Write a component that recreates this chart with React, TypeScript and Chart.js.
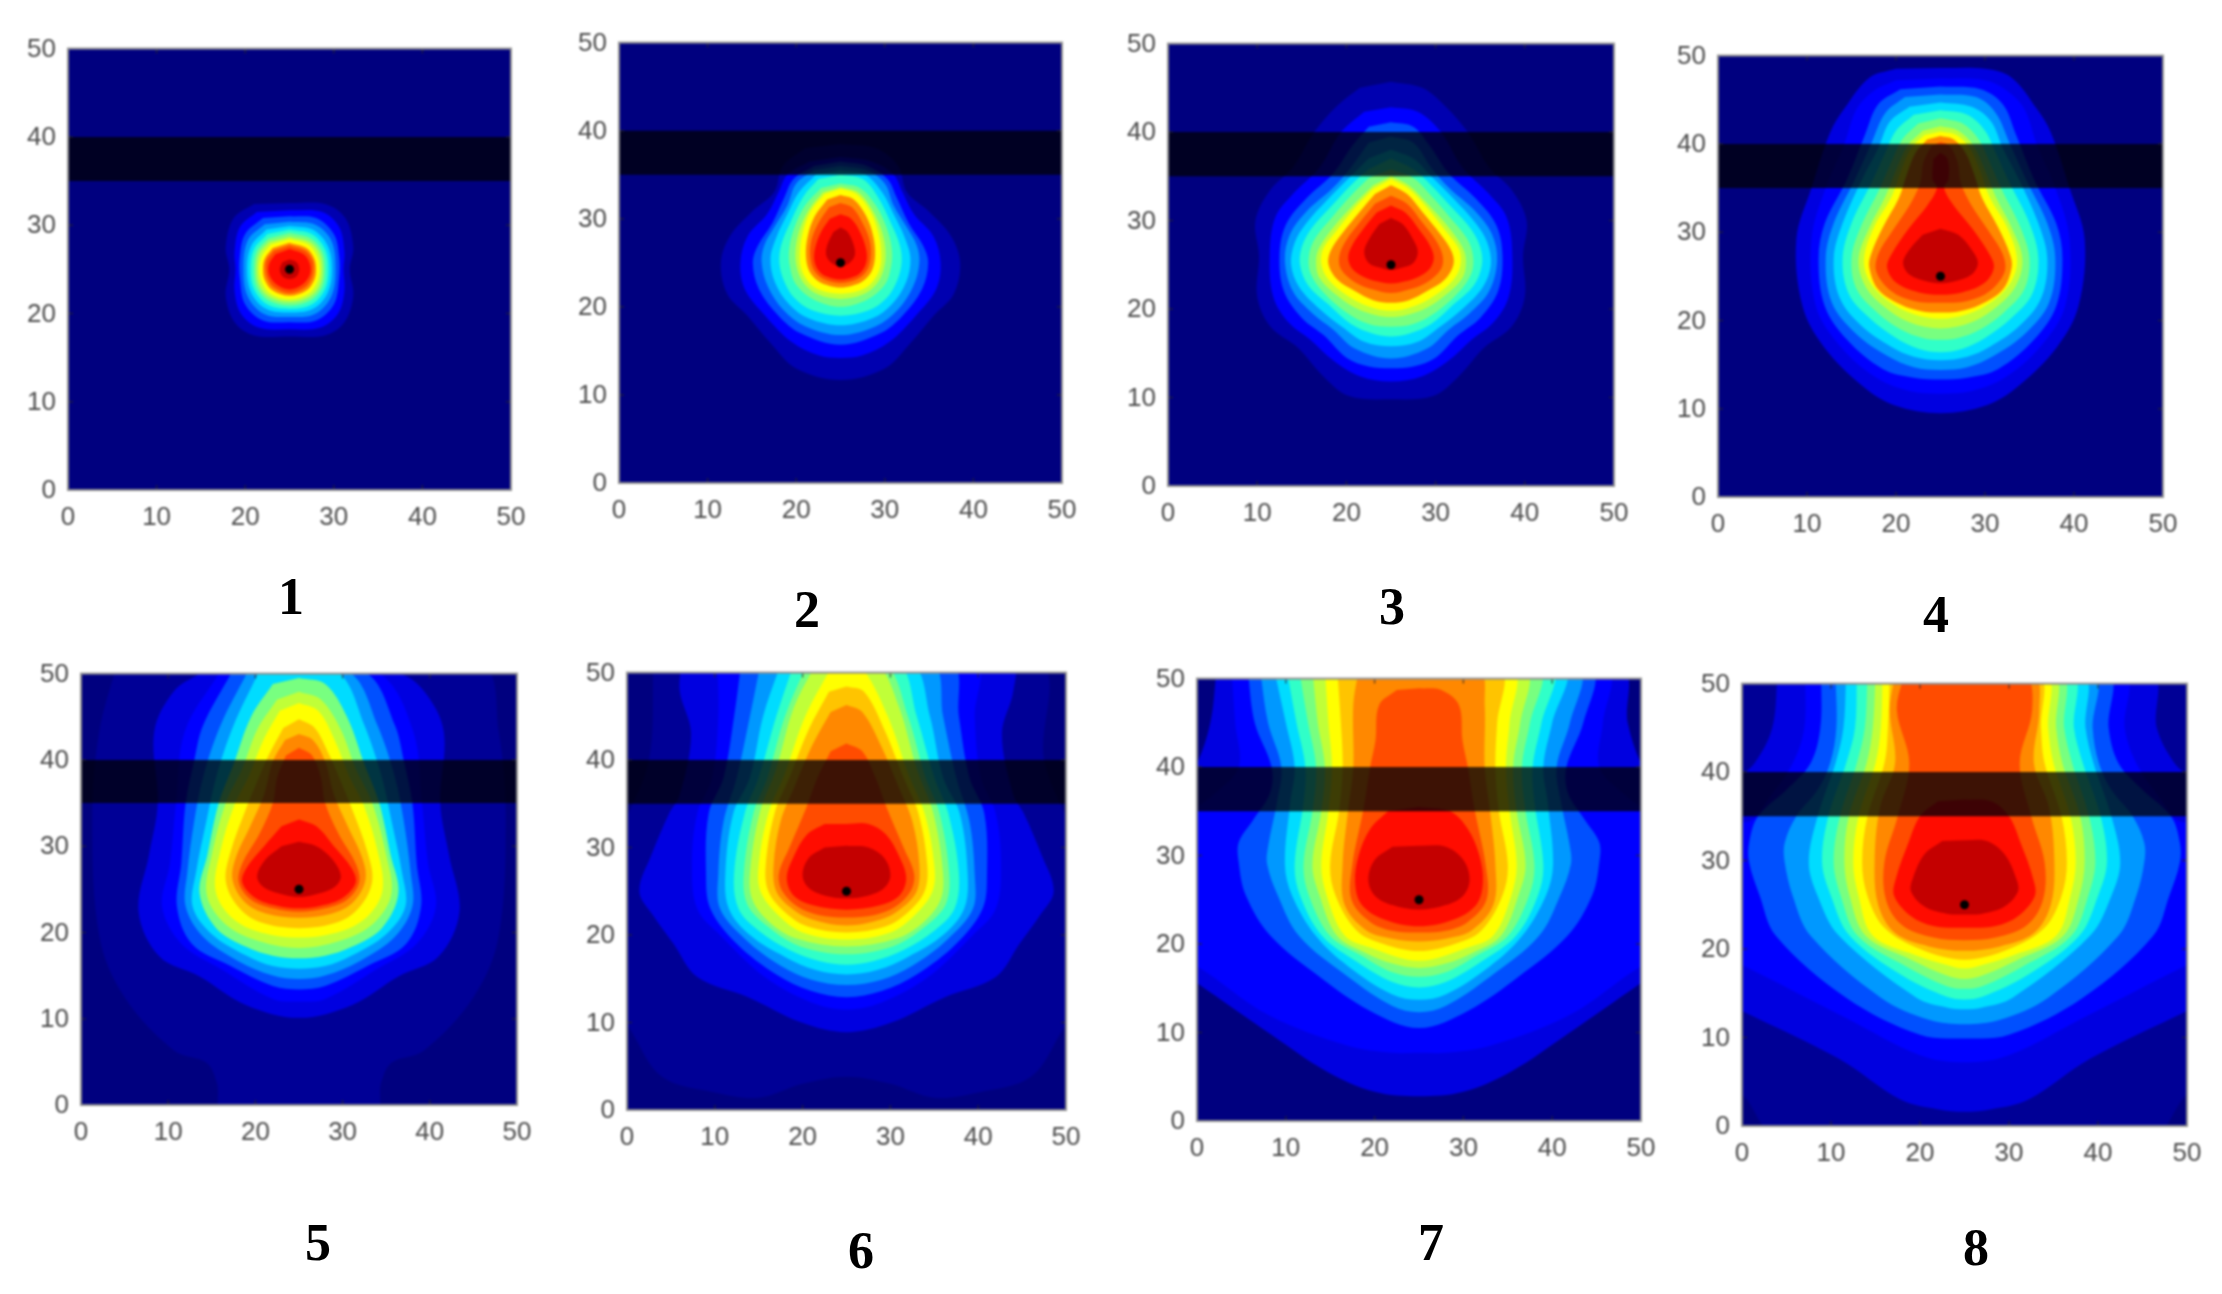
import { useEffect, useRef } from "react"
import { Chart, registerables } from "chart.js"

Chart.register(...registerables)

type Pt = [number, number]

// jet steps used by the filled contours, index 0 is the plot background, 16 the faint first step
const jetColors = [
  "#00007f", "#0000b0", "#0000e0", "#0000ff", "#0050ff", "#0098ff", "#00dcff", "#30ffc8",
  "#78ff80", "#c0ff38", "#ffff00", "#ffc400", "#ff8800", "#ff4c00", "#ff0c00", "#c40000",
  "#000096",
]

const tickValues = [0, 10, 20, 30, 40, 50]
const sourcePoint: Pt = [25, 25]
const layerBand: Pt[] = [[0, 35], [50, 35], [50, 40], [0, 40]]
const plotFrame: Pt[] = [[0, 0], [50, 0], [50, 50], [0, 50]]

// contour outlines, outermost first. Only the right half is read (x >= 25, top to bottom),
// the pictures are symmetric about x = 25
const panel1Levels: Pt[][] = [
  [[25,32.5],[29,32.4],[31.3,30.8],[32.2,27.5],[31.8,25],[32.2,22],[31.2,19],[29,17.5],[25,17.4]],
  [[25,31.7],[28.7,31.5],[30.6,29.8],[31.2,27],[31.1,25],[31.2,22.5],[30.5,20],[28.5,18.4],[25,18.2]],
  [[25,31],[28,30.8],[30,29],[30.6,26.5],[30.6,24],[30,21],[28,19.2],[25,19]],
  [[25,30.4],[27.8,30.1],[29.7,28.3],[30.2,25],[29.7,21.9],[27.8,19.9],[25,19.6]],
  [[25,29.9],[27.6,29.5],[29.3,27.7],[29.8,25],[29.3,22.3],[27.6,20.5],[25,20.1]],
  [[25,29.5],[27.5,29],[29,27.3],[29.4,25],[29,22.7],[27.5,21],[25,20.5]],
  [[25,29.1],[27.4,28.5],[28.7,27],[29,25],[28.7,23],[27.4,21.5],[25,20.9]],
  [[25,28.7],[27.3,28.1],[28.4,26.8],[28.7,25],[28.4,23.2],[27.3,21.9],[25,21.3]],
  [[25,28.4],[27.1,27.8],[28.1,26.5],[28.4,25],[28.1,23.5],[27.1,22.2],[25,21.6]],
  [[25,28],[26.9,27.4],[27.8,26.2],[28,25],[27.8,23.8],[26.9,22.6],[25,22]],
  [[25,27.7],[26.8,27.1],[27.6,26],[27.7,25],[27.5,24],[26.7,22.9],[25,22.3]],
  [[25,27.3],[26.6,26.7],[27.3,25.6],[27.3,24.4],[26.5,23.3],[25,22.7]],
  [[25,26.1],[25.8,25.8],[26.1,25],[25.8,24.2],[25,23.9]],
]

const panel2Levels: Pt[][] = [
  [[25,38.5],[29,38],[31.5,36],[32.5,33],[35,30.8],[37.5,28],[38.5,25],[37.8,21.5],[35.5,19],[33,16],[30,13],[25,11.7]],
  [[25,37],[28.5,36.5],[31,35],[32,33],[33.3,30.5],[35.5,28],[36.3,25],[35.8,22],[33.5,19],[30.5,16],[27.5,14.5],[25,14.2]],
  [[25,36.5],[28,36],[30.3,34.5],[31.3,32.5],[32.7,29.5],[34.3,27],[34.9,25],[34.2,22],[32,19],[29.5,17],[25,15.7]],
  [[25,36],[28,35.5],[30,34],[31,31.5],[32.5,29],[33.6,27],[33.9,25],[33.2,22.3],[31.5,19.7],[29,17.8],[25,16.8]],
  [[25,35.5],[27.8,35],[29.7,33],[31,30.5],[32.2,28],[32.9,25.5],[32.4,22.8],[30.8,20.3],[28.6,18.7],[25,17.9]],
  [[25,35],[27.5,34.5],[29.2,32.5],[30.7,29.5],[31.7,27],[31.9,25],[31.4,23],[30.2,21],[28.2,19.6],[25,19]],
  [[25,34],[27.2,33.5],[29,31.5],[30.2,29],[30.8,26.5],[30.7,24.5],[30,22.5],[28,20.8],[25,20]],
  [[25,33.6],[27,33],[28.6,31],[29.7,28.5],[30.1,26],[29.8,24],[29,22.5],[27.5,21.4],[25,20.9]],
  [[25,33.4],[26.8,32.8],[28.4,30.8],[29.3,28.3],[29.6,26],[29.4,24.2],[28.4,22.6],[27,21.8],[25,21.5]],
  [[25,32.7],[26.5,32.2],[27.9,30.3],[28.7,28],[28.9,25.8],[28.5,24],[27.5,22.9],[26.3,22.4],[25,22.2]],
  [[25,31.8],[26.3,31.3],[27.5,29.5],[28.3,27.5],[28.4,25.5],[27.9,24],[26.8,23.1],[25,22.7]],
  [[25,30.5],[26.2,30],[27.2,28.5],[27.9,26.5],[27.9,25],[27.2,23.8],[26.2,23.3],[25,23.1]],
  [[25,29],[25.8,28.5],[26.5,27],[26.6,25.8],[25.9,24.9],[25,24.6]],
]

const panel3Levels: Pt[][] = [
  [[25,45.7],[28.5,45],[31,43],[33.6,40],[36,36],[38.5,33.5],[40.2,30],[39.8,26],[40,21.4],[38.5,18],[35.4,15.6],[32.6,12.4],[29.8,10.2],[25,9.8]],
  [[25,42.8],[28,42.3],[30.6,40],[33,36],[36,33],[38,30.3],[38.6,26],[38.2,21.4],[36.5,18.5],[34,16.5],[31.5,14.2],[28.5,12.4],[25,11.8]],
  [[25,41.1],[27.5,40.6],[29.3,38.5],[31.5,35.3],[34.5,32.5],[36.8,29.5],[37.5,26],[37,22],[35,19],[32.5,17],[30,14.5],[27.5,13.5],[25,13.3]],
  [[25,39.5],[27.5,38.8],[29.5,36],[31.5,33.7],[34.5,31],[36.3,28.5],[36.9,25.5],[36,22],[33.8,19.5],[31.5,17.7],[29,15.5],[25,14.4]],
  [[25,38],[27.5,37],[29.5,35],[32,32.5],[34.5,29.7],[35.8,27.5],[36.2,25],[35.3,22.5],[33,20],[30.5,18],[28,16.3],[25,15.8]],
  [[25,37],[27.5,35.8],[29.5,34],[31.8,31.5],[34,29],[35,27],[35.2,25],[34.3,22.7],[32,20.5],[29.5,18.3],[27,17.2],[25,16.9]],
  [[25,35.8],[27.5,34.8],[29.5,32.8],[31.5,30.5],[33.5,28],[34.2,26],[34,24],[32.5,21.8],[30,19.6],[27.5,18.3],[25,18]],
  [[25,35],[27,34],[29,32],[31.5,29.2],[33,27],[33.4,25.5],[33,23.5],[31,21.5],[28.5,19.9],[25,19.1]],
  [[25,34.7],[27,33.6],[29,31.5],[31,29],[32.6,26.8],[32.8,25],[32,23.3],[30,21.6],[27.5,20.3],[25,19.8]],
  [[25,34],[26.8,33],[28.5,31],[30.5,28.5],[31.8,26.5],[32,25],[31,23.3],[29,22],[27,21],[25,20.7]],
  [[25,32.8],[26.8,31.9],[28.5,29.8],[30,27.8],[30.8,26],[30.6,24.5],[29,23],[27,22.2],[25,21.8]],
  [[25,31.7],[26.6,30.9],[28,29.2],[29.3,27.3],[29.8,25.8],[29.3,24.5],[27.8,23.5],[26,23],[25,22.9]],
  [[25,30.3],[26.3,29.6],[27.4,28],[28,26.5],[27.5,25.2],[26,24.6],[25,24.4]],
]

const panel4Levels: Pt[][] = [
  [[25,48.6],[30,48.5],[33,47.5],[35.8,44],[37.4,41.3],[39.5,35],[41.2,29.2],[40.5,21.6],[38.1,17],[33.8,12.6],[30.2,10.4],[25,9.5]],
  [[25,47.4],[30,47.2],[32.5,46],[34.4,44],[35.8,40],[37.9,35],[39.5,29.2],[39,21.6],[36.2,17],[32.2,13.5],[28.5,12],[25,11.7]],
  [[25,46.5],[29.5,46.2],[32,44.5],[33.5,41],[35.5,36],[38,31],[38.7,27],[38,21.6],[35.5,17.8],[31.5,14.5],[28,13.5],[25,13.3]],
  [[25,45.6],[29,45.3],[31.2,43.5],[32.8,40],[34.6,36],[37,31],[37.9,27],[37.2,22],[34.5,18.5],[31,16],[28,14.7],[25,14.4]],
  [[25,44.7],[28.5,44.2],[30.7,42.5],[32,39.5],[33.8,36],[36,31],[37,27],[36.3,22.5],[33.8,19.3],[30.5,17],[28,15.9],[25,15.5]],
  [[25,43.8],[28,43.3],[30,41.5],[31.2,39],[32.8,35.5],[35,31],[36,27],[35.3,23],[33,20.3],[30,18],[27.5,16.8],[25,16.4]],
  [[25,42.9],[27.5,42.3],[29.3,40.5],[30.5,38],[31.9,34.8],[34,30.5],[35,27],[34.4,23.5],[32,20.8],[29.5,19],[27,18],[25,17.8]],
  [[25,42],[27,41.5],[28.7,39.8],[30,37],[31.2,34],[33,30.5],[34.2,27],[33.5,24],[31.5,21.7],[28.5,19.8],[25,19.1]],
  [[25,41.4],[26.8,41],[28.3,39.5],[29.5,36.8],[30.5,34],[32.5,30.5],[33.6,27],[33,24.5],[31,22.3],[28,20.7],[25,20.2]],
  [[25,40.9],[26.5,40.5],[27.8,39],[28.8,36.5],[29.7,33.8],[31.5,30.5],[32.8,27.5],[33,26],[32,23.5],[29.5,21.8],[27,21],[25,20.9]],
  [[25,40.2],[26,39.8],[26.9,38],[27.3,35.5],[28.5,33],[30.5,30],[32,27.5],[32.2,25.5],[30.5,23.3],[28,22.2],[25,22]],
  [[25,39],[25.8,38.3],[25.9,36],[25.4,35],[26.5,33],[28.5,30.5],[30.5,27.5],[31,26],[30,24.3],[27.5,23.2],[25,22.9]],
  [[25,30.4],[27,29.7],[28.5,28],[29.2,26.5],[28.5,25.2],[26.5,24.4],[25,24.2]],
]

const panel5Levels: Pt[][] = [
  [[25,51],[45.9,51],[47.9,43.3],[48.7,33.8],[47.9,19.6],[45,12.5],[39.3,6.3],[35.6,4.9],[34.4,2.5],[33.8,-1],[25,-1]],
  [[25,51],[36.4,50],[39.3,48],[41.6,43.3],[41.2,35],[42.2,29],[43.4,22.4],[41,17.2],[36.4,14.9],[31.1,11.6],[25,10.1]],
  [[25,51],[34.2,50],[38.1,43.3],[39.1,35],[39.8,28],[40.7,23],[38.5,18.7],[34,15.8],[28,12.3],[25,12]],
  [[25,51],[32.8,50],[36,44],[37,40],[38,35],[38.5,28],[39,23],[37.3,18.7],[33,16.2],[28,13.8],[25,13.4]],
  [[25,51],[31,50],[34,44],[36,38],[37,33],[37.8,27],[38,23],[36,19.5],[32,16.7],[28,15],[25,14.6]],
  [[25,51],[29.7,50],[32.5,44],[34.5,38],[35.6,33],[36.8,27],[37.2,23],[35,19.8],[31,17.3],[28,16.1],[25,15.8]],
  [[25,49.5],[28,48.8],[30.5,45],[32.5,39.5],[34.2,35],[35.5,29],[36.4,24.5],[34.5,20.5],[31,18.3],[28,17.3],[25,17]],
  [[25,47.9],[27.5,47],[29.8,43.5],[31.5,39],[33.4,35],[35,29],[35.6,24.5],[33.8,21.3],[30.5,19.3],[25,18.2]],
  [[25,46.6],[27.2,45.7],[29,42.5],[30.8,38],[32.4,34.8],[34,29.5],[34.6,25],[33,22],[30,20.2],[25,19.4]],
  [[25,44.7],[26.8,43.7],[28.5,40.5],[30,37],[31.2,34],[32.8,29.5],[33.4,26],[32,23],[29.5,21.2],[25,20.5]],
  [[25,43],[26.6,42.3],[28,39.8],[29,36],[30.5,32.5],[32.3,28.5],[32.6,26],[31.2,23.5],[28.8,22.2],[25,21.7]],
  [[25,41.4],[26.5,40.5],[27.5,38],[28,35],[29.5,31.5],[31.5,28],[31.9,25.8],[30.5,23.8],[28,22.8],[25,22.4]],
  [[25,33.1],[27,32.3],[29,30],[31,27.5],[31.5,25.8],[30,24],[27.5,23.1],[25,22.8]],
  [[25,30.5],[27,30],[28.8,28.5],[29.8,26.5],[29,25.2],[26.5,24.3],[25,24.1]],
]

const panel6Levels: Pt[][] = [
  [[25,51],[47,51],[47.5,40],[51,30],[51,12],[49.5,9],[46,3.8],[40,2],[35,1.4],[30,3],[25,3.8]],
  [[25,51],[43.8,51],[44,47.9],[42.7,43],[44,36],[45.2,33.9],[47.2,29.2],[48.6,25],[47,22.2],[44.7,19],[42,15.2],[36.2,12.9],[30.1,10],[25,8.9]],
  [[25,51],[39.7,51],[39.6,45],[40.3,38],[42,33.9],[42.6,28],[42,23],[39.3,19.9],[34.3,15.2],[29,12.3],[25,11.5]],
  [[25,51],[37,51],[37.8,45],[39,38],[40.7,33.9],[41,27],[40.5,23],[37.5,19],[33,15.5],[29,13.6],[25,12.9]],
  [[25,51],[34.8,51],[36,45],[37.5,38],[39,33],[39.6,27],[39.4,23],[36.5,19.5],[32.5,16.5],[29,14.9],[25,14.3]],
  [[25,51],[32.5,51],[34.5,45],[36,38],[37.9,33.9],[38.8,27],[38.4,23],[36,20],[32,17.5],[28.5,16],[25,15.5]],
  [[25,51],[31,51],[33,45],[35,38],[36.6,33.9],[37.8,27],[37.3,23],[35,20.5],[31.5,18.3],[28,17],[25,16.6]],
  [[25,51],[29.5,51],[32,45],[34,38],[35.6,33.9],[36.7,27],[36.3,23.5],[34,21],[31,19],[28,18.1],[25,17.8]],
  [[25,51],[28.5,51],[31,46],[33,39],[34.9,33.9],[36,27],[35.7,24],[33.8,21.5],[30.7,19.6],[25,18.7]],
  [[25,51],[26.8,50.5],[29.7,45],[32,38.5],[33.9,33.9],[35,28],[34.8,25],[32.8,22.3],[30,20.3],[25,19.5]],
  [[25,48.4],[27,47.8],[29.3,43.5],[31.5,38],[33.2,33.9],[34.2,28],[33.9,25],[32,22.6],[29.5,21],[25,20.3]],
  [[25,46.3],[26.8,45.5],[29,41.5],[30.9,37],[32.5,33],[33.3,28],[33,25],[31.2,23],[29,21.8],[25,21.1]],
  [[25,41.9],[26.8,41],[28.3,38],[29.6,34.5],[31.5,30],[32.7,27],[32.3,25],[30.5,23.2],[28.2,22.3],[25,22]],
  [[25,32.7],[27.5,32.7],[29.5,31.5],[31,29],[31.8,26.5],[31,24.5],[28.8,23.4],[25,22.9]],
  [[25,30.2],[27.5,30],[29.3,28.8],[30,26.8],[29.2,25.3],[27,24.4],[25,24.2]],
]

const panel7Levels: Pt[][] = [
  [[25,51],[47.8,51],[48.5,45],[50.2,40],[52,38],[52,17],[50,15.6],[41.7,9.8],[35.4,5.6],[30,3.3],[25,2.8]],
  [[25,51],[46.1,51],[45.7,45],[45.3,40],[48,37],[50,35.5],[52,34],[52,18],[50,17.5],[42,12],[33,8.5],[28,7.7],[25,7.7]],
  [[25,51],[44.3,51],[43.5,45],[41.6,40],[41.8,37],[43.7,34],[45.3,31.5],[45.3,29.2],[44.5,25.5],[41.7,20.9],[36.2,16.3],[30.6,12.5],[25,10.5]],
  [[25,51],[42.9,51],[42,45],[40.5,40],[41,36],[42,31],[42.1,29],[40.9,25.5],[38.5,20.9],[33,16.3],[28,13],[25,12.3]],
  [[25,51],[41.3,51],[40,45],[39,40],[39.5,36],[40.1,29],[39.3,25.5],[36.6,20.9],[33,17.5],[28,14.3],[25,13.7]],
  [[25,51],[39.9,51],[38.8,45],[37.8,40],[38,36],[39,29],[38.4,25.5],[35.9,20.9],[32,18],[28,15.7],[25,15.1]],
  [[25,51],[38.5,51],[37.5,45],[36.6,40],[37,35],[38,29],[37.4,25.5],[35,20.9],[31.5,18.7],[28,16.8],[25,16.3]],
  [[25,51],[37,51],[36.4,45],[35.6,40],[36,35],[37,29],[36.2,25.5],[34.2,20.9],[31,19],[28,17.8],[25,17.3]],
  [[25,51],[35.6,51],[35.2,45],[34.8,40],[35.2,35],[36,29],[35.4,25.5],[33.4,21],[30.5,19.6],[25,18.1]],
  [[25,51],[34.2,51],[33.8,45],[33.6,40],[34,35],[35,29],[34.4,25.5],[32,21.5],[29,20],[25,19.2]],
  [[25,51],[31.8,51],[32.4,47],[32.4,40],[33,35],[33.6,29],[33.4,24.5],[31,21.6],[28,20.6],[25,20.3]],
  [[25,48.9],[27.5,48.7],[29.5,47],[29.9,43],[30.5,40],[31.3,35],[32.5,29],[32.6,25],[30.5,22.5],[28,21.5],[25,21.3]],
  [[25,35.5],[28.5,35],[30.5,33],[31.8,30],[32.2,27],[31.5,24.5],[29,22.8],[25,22]],
  [[25,31.1],[28,31],[30,29.5],[30.7,27.3],[30,25.5],[28,24.4],[25,23.9]],
]

const panel8Levels: Pt[][] = [
  [[25,51],[52,51],[52,3.8],[50,3.6],[46.2,-1],[25,-1]],
  [[25,51],[46,51],[46.6,45],[48.6,41],[50.5,39.5],[52,39],[52,14],[50,13],[39.1,7.6],[32.2,3],[28,1.9],[25,1.6]],
  [[25,51],[42.9,51],[43,45],[44.3,41],[47,37],[49,34.5],[52,34],[52,19],[50,18.2],[38.3,12.2],[30,8],[25,7.2]],
  [[25,51],[41.1,51],[41.2,45],[42.3,41],[45,38],[48.2,35],[49.2,32],[49.2,29.8],[48,26],[46.2,21.5],[38.3,14.5],[30,10.3],[25,9.9]],
  [[25,51],[39.5,51],[39.4,45],[40.1,41],[41.5,38],[43.9,35],[45.2,32],[45.2,29.8],[44.3,26],[42.3,21.5],[34.4,14.5],[29,12],[25,11.5]],
  [[25,51],[38.3,51],[38.6,45],[39.5,41],[41.5,35],[42.5,29.8],[41.5,26],[39.1,21.5],[30.4,14.5],[27,13.4],[25,13.2]],
  [[25,51],[37.1,51],[37.3,45],[38.3,41],[40.3,35],[41,29.8],[40,26],[37.9,21.5],[32,17],[27,14.6],[25,14.3]],
  [[25,51],[35.9,51],[36.2,45],[37.1,41],[39,35],[39.7,29.8],[38.9,26],[37,21.5],[31.5,18],[27,15.8],[25,15.5]],
  [[25,51],[35,51],[35.3,45],[36,41],[38,35],[38.5,29.8],[37.9,26],[36.1,21.5],[31,18.8],[27,17],[25,16.6]],
  [[25,51],[34.2,51],[34.4,45],[35,41],[36.9,35],[37.5,29.8],[36.9,26],[35.3,21.5],[30.5,19.3],[27,18.2],[25,17.8]],
  [[25,51],[33.4,51],[33.6,45],[34,41],[35.9,35],[36.5,29.8],[35.9,26],[34,22.4],[30,20],[25,18.8]],
  [[25,51],[32.8,51],[33.4,47],[32.8,41],[34.5,36],[35.1,29.8],[34.7,25],[32.8,21.8],[29,20.3],[25,19.8]],
  [[25,51],[31.8,51],[32.6,47],[31.2,41],[32.5,35],[34,29.8],[33.8,25.5],[32,22.7],[28.5,21.3],[25,21]],
  [[25,36.9],[28,36.7],[30,35],[31.3,32],[32.7,28],[32.9,26],[31,23.7],[28.5,22.6],[25,22.4]],
  [[25,32.3],[27.5,32.2],[29.5,30.7],[30.8,28],[31,26.5],[29.5,24.8],[27,24],[25,23.9]],
]

// which jet step fills each contour of a panel, outermost first
const steps13 = [1, 3, 4, 5, 6, 7, 8, 9, 10, 12, 13, 14, 15]
const steps13Bright = [2, 3, 4, 5, 6, 7, 8, 9, 10, 12, 13, 14, 15]
const steps14Faint = [16, 2, 3, 4, 5, 6, 8, 9, 10, 11, 12, 13, 14, 15]
const steps14Bright = [2, 3, 4, 5, 6, 7, 8, 9, 10, 11, 12, 13, 14, 15]
const steps15 = [16, 2, 3, 4, 5, 6, 7, 8, 9, 10, 11, 12, 13, 14, 15]

const panels = [
  { name: "1", levels: panel1Levels, steps: steps13, left: 68, right: 511.5, top: 48.5, bottom: 490, labelX: 291, labelY: 597 },
  { name: "2", levels: panel2Levels, steps: steps13, left: 619, right: 1062, top: 43, bottom: 483, labelX: 807, labelY: 610 },
  { name: "3", levels: panel3Levels, steps: steps13, left: 1168, right: 1614.5, top: 44, bottom: 486, labelX: 1392, labelY: 607 },
  { name: "4", levels: panel4Levels, steps: steps13Bright, left: 1718, right: 2163, top: 56, bottom: 497, labelX: 1936, labelY: 615 },
  { name: "5", levels: panel5Levels, steps: steps14Faint, left: 81, right: 517, top: 674, bottom: 1105, labelX: 318, labelY: 1243 },
  { name: "6", levels: panel6Levels, steps: steps15, left: 626.5, right: 1066, top: 672.5, bottom: 1110, labelX: 861, labelY: 1251 },
  { name: "7", levels: panel7Levels, steps: steps14Bright, left: 1196.5, right: 1641, top: 678.5, bottom: 1120.5, labelX: 1431, labelY: 1243 },
  { name: "8", levels: panel8Levels, steps: steps15, left: 1742, right: 2187, top: 683.5, bottom: 1125.5, labelX: 1976, labelY: 1248 },
]

const gutterLeft = 60
const gutterRight = 34
const gutterTop = 20
const gutterBottom = 62

// outline from the right half: down the right side, back up the left side
const closeOutline = (half: Pt[]) => {
  const leftSide = half.slice(1, -1).reverse().map(([x, y]) => ({ x: 50 - x, y }))
  return [...half.map(([x, y]) => ({ x, y })), ...leftSide]
}

const shapeDataset = (data: { x: number; y: number }[], color: string, tension: number) => ({
  data,
  showLine: true,
  fill: "shape",
  backgroundColor: color,
  borderColor: "transparent",
  borderWidth: 0,
  pointRadius: 0,
  tension,
})

// matlab style box with the ticks pointing inwards
const boxPlugin = {
  id: "box",
  afterDatasetsDraw(chart: any) {
    const { ctx, chartArea: a, scales } = chart
    ctx.save()
    ctx.strokeStyle = "rgba(40,40,40,0.65)"
    ctx.lineWidth = 1.5
    ctx.beginPath()
    tickValues.slice(1, -1).forEach((v) => {
      const px = scales.x.getPixelForValue(v)
      const py = scales.y.getPixelForValue(v)
      ctx.moveTo(px, a.top)
      ctx.lineTo(px, a.top + 5)
      ctx.moveTo(px, a.bottom)
      ctx.lineTo(px, a.bottom - 5)
      ctx.moveTo(a.left, py)
      ctx.lineTo(a.left + 5, py)
      ctx.moveTo(a.right, py)
      ctx.lineTo(a.right - 5, py)
    })
    ctx.stroke()
    ctx.strokeStyle = "#8f8f8f"
    ctx.lineWidth = 2
    ctx.strokeRect(a.left, a.top, a.right - a.left, a.bottom - a.top)
    ctx.restore()
  },
}

const ContourPanel = ({ panel }: { panel: (typeof panels)[number] }) => {
  const canvasRef = useRef<HTMLCanvasElement | null>(null)
  const plotW = panel.right - panel.left
  const plotH = panel.bottom - panel.top

  useEffect(() => {
    const canvas = canvasRef.current
    if (!canvas) return
    const contours = panel.levels
      .map((half, i) => shapeDataset(closeOutline(half), jetColors[panel.steps[i]], 0.35))
      .reverse()

    const axis = (afterFit: (s: any) => void) => ({
      type: "linear",
      min: 0,
      max: 50,
      afterFit,
      afterBuildTicks: (s: any) => {
        s.ticks = tickValues.map((value) => ({ value }))
      },
      grid: { display: false, drawTicks: false },
      border: { display: false },
    })

    const chart = new Chart(canvas, {
      type: "scatter",
      data: {
        datasets: [
          { data: [{ x: sourcePoint[0], y: sourcePoint[1] }], backgroundColor: "#000", borderWidth: 0, pointRadius: 4.5 },
          shapeDataset(layerBand.map(([x, y]) => ({ x, y })), "rgba(0,0,6,0.76)", 0),
          ...contours,
          shapeDataset(plotFrame.map(([x, y]) => ({ x, y })), jetColors[0], 0),
        ],
      } as any,
      options: {
        animation: false,
        responsive: false,
        maintainAspectRatio: false,
        devicePixelRatio: 1,
        layout: { padding: { top: gutterTop, right: gutterRight, left: 0, bottom: 0 } },
        plugins: { legend: { display: false }, tooltip: { enabled: false } },
        scales: {
          x: {
            ...axis((s) => { s.height = gutterBottom }),
            ticks: {
              padding: 12,
              autoSkip: false,
              maxRotation: 0,
              color: "#4c4c4c",
              font: { family: "'Liberation Sans'", size: 26 },
            },
          },
          y: {
            ...axis((s) => { s.width = gutterLeft }),
            ticks: {
              padding: 12,
              labelOffset: 1,
              autoSkip: false,
              color: "#4c4c4c",
              font: { family: "'Liberation Sans'", size: 26 },
            },
          },
        },
      } as any,
      plugins: [boxPlugin],
    })

    // the layout keeps some room of its own round the plot, so measure it and
    // grow the canvas until the plot area has the height it should have
    for (let pass = 0; pass < 3; pass++) {
      const area = chart.chartArea
      canvas.style.top = `${panel.top - area.top}px`
      const short = plotH - (area.bottom - area.top)
      if (Math.abs(short) < 0.5) break
      chart.resize(chart.width, Math.round(chart.height + short))
    }

    return () => {
      chart.destroy()
    }
  }, [panel])

  return (
    <>
      <canvas
        ref={canvasRef}
        width={plotW + gutterLeft + gutterRight}
        height={plotH + gutterTop + gutterBottom}
        style={{
          position: "absolute",
          left: panel.left - gutterLeft,
          top: panel.top - gutterTop,
          filter: "blur(0.8px)",
        }}
      />
      <div
        style={{
          position: "absolute",
          left: panel.labelX,
          top: panel.labelY,
          transform: "translate(-50%, -50%)",
          font: "bold 52px 'Liberation Serif'",
          lineHeight: 1,
          color: "#000",
          filter: "blur(0.6px)",
        }}
      >
        {panel.name}
      </div>
    </>
  )
}

const App = () => (
  <div style={{ position: "absolute", left: 0, top: 0, width: 2222, height: 1294, background: "#fff", overflow: "hidden" }}>
    {panels.map((p) => (
      <ContourPanel key={p.name} panel={p} />
    ))}
  </div>
)

export default App
